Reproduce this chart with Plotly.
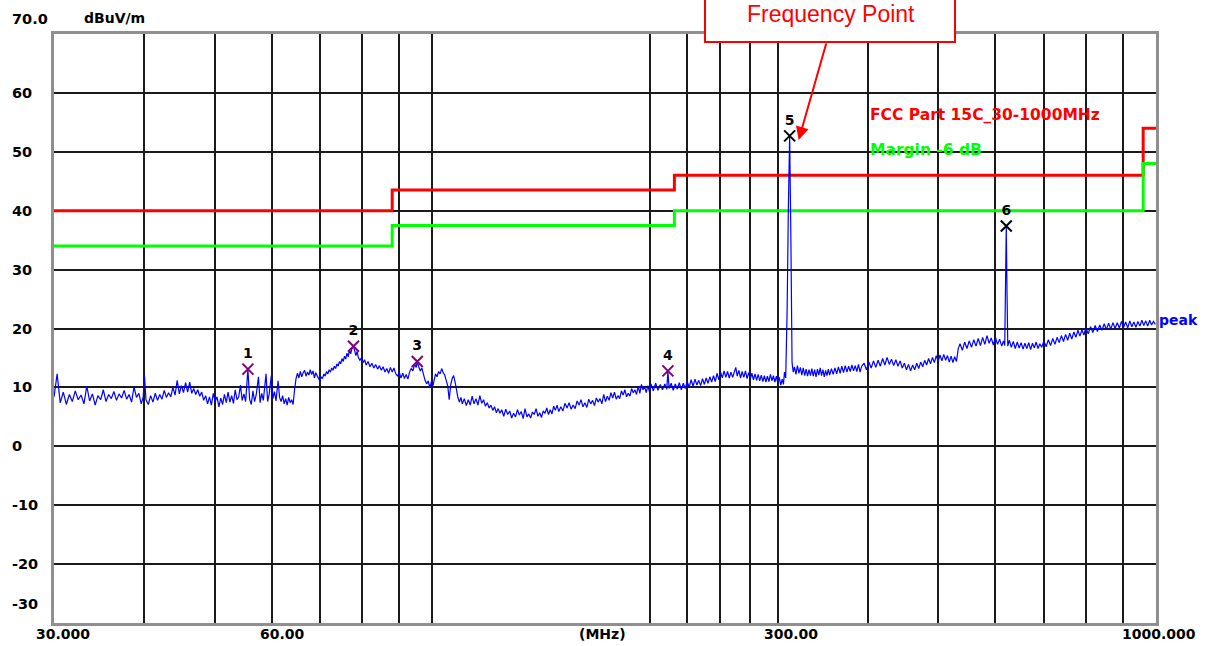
import math
import plotly.graph_objects as go

# ---------------- data ----------------
seg_30_40 = [(30.0,8.4),(30.3,12.3),(30.6,7.4),(30.9,9.2),(31.2,7.1),(31.5,8.8),(31.8,7.6),(32.1,9.4),(32.4,7.9),(32.7,8.7),(33.0,7.2),(33.3,10.2),(33.6,7.7),(33.9,8.9),(34.2,7.0),(34.5,8.6),(34.8,7.9),(35.1,9.6),(35.4,7.6),(35.7,8.8),(36.0,8.1),(36.3,9.3),(36.6,7.8),(36.9,8.9),(37.2,8.2),(37.5,9.5),(37.8,8.0),(38.1,8.8),(38.4,7.5),(38.7,10.1),(39.0,8.3),(39.3,9.0),(39.6,7.2),(39.85,8.4),(40.0,12.2)]
seg_40_55 = [(40.2,7.9),(40.5,7.1),(40.8,8.6),(41.1,7.5),(41.4,9.0),(41.7,7.8),(42.0,8.8),(42.3,8.0),(42.6,9.5),(42.9,8.3),(43.2,9.1),(43.5,8.4),(43.8,10.0),(44.1,8.7),(44.4,11.2),(44.7,8.9),(45.0,10.3),(45.3,9.1),(45.6,10.8),(45.9,9.2),(46.2,10.9),(46.5,9.0),(46.8,9.8),(47.1,8.8),(47.4,9.6),(47.7,8.5),(48.0,9.2),(48.3,7.8),(48.6,8.6),(48.9,7.2),(49.2,8.4),(49.5,7.0),(49.8,9.0),(50.1,7.6),(50.4,8.4),(50.7,6.7),(51.0,8.2),(51.3,7.1),(51.6,8.8),(51.9,7.4),(52.2,9.2),(52.5,7.5),(52.8,8.6),(53.1,7.3),(53.4,9.6),(53.7,7.9),(54.0,8.4),(54.3,10.4),(54.6,7.8),(54.9,8.9),(55.2,7.6)]
seg_55_65 = [(55.6,13.1),(55.9,8.0),(56.2,7.1),(56.5,9.4),(56.8,7.6),(57.1,8.8),(57.5,11.8),(57.8,7.4),(58.1,9.0),(58.4,7.8),(58.9,12.3),(59.2,7.6),(59.5,8.9),(59.9,12.0),(60.2,8.1),(60.5,9.3),(60.8,7.7),(61.2,11.1),(61.5,8.3),(61.8,7.6),(62.1,8.6),(62.4,7.2),(62.7,8.1),(63.0,7.0),(63.3,8.3),(63.6,7.4),(63.9,7.9),(64.2,7.1),(64.5,9.6)]
seg_65_78 = [(64.8,11.5),(65.1,12.4),(65.4,11.6),(65.7,12.7),(66.0,11.8),(66.3,12.5),(66.6,12.9),(66.9,11.9),(67.2,12.6),(67.5,12.1),(67.8,13.0),(68.1,12.2),(68.4,12.8),(68.7,11.6),(69.0,12.5),(69.3,12.0),(69.9,11.1),(70.2,11.8),(70.5,11.5),(70.8,12.3),(71.1,11.9),(71.4,12.7),(71.7,12.3),(72.0,13.0),(72.3,12.6),(72.6,13.3),(72.9,12.9),(73.2,13.6),(73.5,13.2),(73.8,14.0),(74.1,13.6),(74.4,14.4),(74.7,14.0),(75.0,14.9),(75.3,14.4),(75.6,15.3),(75.9,14.8),(76.2,15.8),(76.5,15.2),(76.8,16.3),(77.1,15.7),(77.4,16.5),(77.8,17.0),(78.1,16.2)]
seg_78_100 = [(78.4,15.4),(78.7,16.1),(79.0,15.1),(79.4,14.6),(79.8,15.0),(80.2,14.2),(80.6,14.7),(81.0,13.8),(81.5,14.4),(82.0,13.5),(82.5,14.1),(83.0,13.3),(83.5,13.9),(84.0,13.1),(84.5,13.7),(85.0,12.9),(85.5,13.5),(86.0,12.6),(86.5,13.2),(87.0,12.4),(87.5,13.4),(88.0,12.6),(88.5,13.3),(89.0,12.3),(89.5,11.9),(90.0,12.6),(90.5,11.6),(91.0,12.4),(91.5,11.5),(92.0,12.2),(92.5,11.4),(93.0,12.6),(93.5,13.2),(94.0,12.8),(94.5,13.9),(95.0,13.4),(95.3,14.4),(95.7,13.6),(96.2,12.8),(96.7,13.3),(97.2,12.1),(97.7,11.2),(98.2,10.6),(98.7,11.1),(99.2,9.9),(99.7,11.0)]
seg_100_125 = [(100.2,10.3),(100.6,11.6),(101.0,12.3),(101.5,11.8),(102.0,12.7),(102.5,12.3),(103.0,13.2),(103.5,12.5),(104.0,12.1),(104.5,11.2),(105.0,10.3),(105.5,7.9),(106.0,10.4),(106.5,11.5),(107.0,12.0),(107.5,10.9),(108.0,9.3),(108.5,8.2),(109.0,7.5),(109.5,8.3),(110.0,7.2),(110.7,8.1),(111.4,6.9),(112.1,7.9),(112.8,7.0),(113.5,8.5),(114.2,7.2),(114.9,8.1),(115.6,7.0),(116.3,8.6),(117.0,7.3),(117.7,7.9),(118.4,6.8),(119.1,7.4),(119.8,6.5),(120.5,7.0),(121.2,6.1),(121.9,6.7),(122.6,5.7),(123.3,6.4),(124.0,5.6),(124.7,6.2)]
seg_125_172 = [(125.5,5.1),(126.3,6.3),(127.1,5.4),(127.9,6.0),(128.7,4.8),(129.5,5.6),(130.3,5.0),(131.1,6.2),(131.9,5.3),(132.7,5.9),(133.5,4.7),(134.3,6.4),(135.1,5.0),(135.9,5.5),(136.7,4.8),(137.5,5.8),(138.3,5.4),(139.1,6.4),(139.9,5.1),(140.7,5.7),(141.5,4.9),(142.3,6.0),(143.1,5.6),(143.9,6.5),(144.7,5.4),(145.5,6.2),(146.3,5.5),(147.1,6.8),(147.9,6.1),(148.7,7.0),(149.5,5.9),(150.5,6.7),(151.5,6.0),(152.5,7.3),(153.5,6.5),(154.5,7.4),(155.5,6.3),(156.5,7.0),(157.5,6.4),(158.5,7.7),(159.5,7.0),(160.5,7.9),(161.5,6.7),(162.5,7.4),(163.5,6.6),(164.5,8.0),(165.5,7.2),(166.5,7.8),(167.5,6.9),(168.5,8.2),(169.5,7.5),(170.5,8.1),(171.5,7.2)]
seg_172_200 = [(172.5,8.8),(173.5,7.6),(174.5,8.5),(175.5,7.8),(176.5,9.1),(177.5,8.2),(178.5,9.2),(179.5,8.0),(180.5,8.6),(181.5,8.1),(182.5,9.4),(183.5,8.7),(184.5,9.6),(185.5,8.4),(186.5,9.0),(187.5,8.5),(188.5,9.8),(189.5,9.1),(190.5,9.6),(191.5,8.8),(192.5,10.2),(193.5,9.0),(194.5,10.5),(195.5,9.6),(196.5,10.1),(197.5,9.1),(198.5,10.3),(199.5,9.3)]
seg_200_308 = [(200.5,10.6),(202.0,9.4),(203.5,10.7),(205.0,9.5),(206.5,10.5),(208.0,9.6),(209.5,10.6),(210.8,9.7),(211.6,12.7),(212.4,9.8),(213.8,10.7),(215.2,9.5),(216.6,10.6),(218.0,9.7),(219.4,10.8),(220.8,9.6),(222.2,10.7),(223.6,9.8),(225.0,11.0),(226.4,10.0),(227.8,11.3),(229.2,10.2),(230.6,11.4),(232.0,10.4),(233.4,11.2),(234.8,10.3),(236.2,11.5),(237.6,10.5),(239.0,11.6),(240.4,10.7),(241.8,11.8),(243.2,10.9),(244.6,12.0),(246.0,11.0),(247.4,12.4),(248.8,11.3),(250.2,12.6),(251.6,11.6),(253.0,12.8),(254.4,11.7),(255.8,12.7),(257.2,11.6),(258.6,12.6),(260.0,11.7),(261.4,12.9),(262.6,13.4),(263.8,11.9),(265.2,12.9),(266.6,11.6),(268.0,12.7),(269.4,11.7),(270.8,12.8),(272.2,11.5),(273.6,12.5),(275.0,11.4),(276.4,12.4),(277.8,11.3),(279.2,12.3),(280.6,11.2),(282.0,12.2),(283.4,11.1),(284.8,12.1),(286.2,11.0),(287.6,12.0),(289.0,10.9),(290.4,11.9),(291.8,11.0),(293.2,12.2),(294.6,11.1),(296.0,12.0),(297.4,10.9),(298.8,11.9),(300.2,10.7),(301.6,11.7),(303.0,10.4),(304.4,11.4),(305.6,10.5),(306.6,12.6),(307.8,11.6)]
spike_5 = [(309.2,23.0),(310.4,40.2),(311.7,52.7),(312.9,35.7),(314.1,14.2),(315.3,12.6)]
seg_315_393 = [(316.5,13.5),(318.0,12.2),(319.5,13.7),(321.0,12.4),(322.5,13.4),(324.0,12.1),(325.5,13.3),(327.0,12.0),(328.5,13.1),(330.0,11.9),(331.5,13.0),(333.0,12.0),(334.5,13.2),(336.0,11.9),(337.5,13.0),(339.0,11.8),(340.5,13.1),(342.0,12.1),(343.5,13.3),(345.0,12.0),(346.5,13.0),(348.0,11.8),(349.5,12.9),(351.0,12.0),(352.5,13.1),(354.0,12.1),(356.0,13.2),(358.0,12.2),(360.0,13.3),(362.0,12.3),(364.0,13.5),(366.0,12.4),(368.0,13.6),(370.0,12.5),(372.0,13.7),(374.0,12.6),(376.0,13.6),(378.0,12.7),(380.0,13.8),(382.0,12.8),(384.0,13.7),(386.0,12.7),(388.0,13.9),(390.0,12.6),(392.0,13.6)]
seg_393_533 = [(395.0,14.1),(398.0,13.0),(401.0,14.3),(404.0,13.3),(407.0,14.5),(410.0,13.4),(413.0,14.6),(416.0,13.6),(419.0,14.9),(422.0,13.8),(425.0,15.1),(428.0,13.9),(431.0,14.8),(434.0,13.7),(437.0,14.7),(440.0,13.6),(443.0,14.5),(446.0,13.3),(449.0,14.1),(452.0,13.0),(455.0,13.9),(458.0,12.8),(461.0,13.8),(464.0,13.0),(467.0,14.1),(470.0,13.2),(473.0,14.3),(476.0,13.5),(479.0,14.6),(482.0,13.8),(485.0,14.9),(488.0,14.0),(491.0,15.1),(494.0,14.2),(497.0,15.4),(500.0,14.4),(503.0,15.5),(506.0,14.5),(509.0,15.6),(512.0,14.6),(515.0,15.4),(518.0,14.3),(521.0,15.3),(524.0,14.2),(527.0,15.2),(530.0,14.4),(533.0,16.6)]
seg_533_618 = [(536.0,17.4),(540.0,16.3),(544.0,17.7),(548.0,16.6),(552.0,17.9),(556.0,16.8),(560.0,18.1),(564.0,17.0),(568.0,18.3),(572.0,17.1),(576.0,18.5),(580.0,17.3),(584.0,18.8),(588.0,17.5),(592.0,18.4),(596.0,17.2),(600.0,18.5),(604.0,17.3),(608.0,18.2),(612.0,17.0),(615.5,17.9),(618.0,17.1)]
spike_6 = [(619.5,26.5),(621.0,37.4),(622.5,26.0),(624.0,17.0)]
seg_624_1000 = [(627.0,18.0),(631.0,16.8),(635.0,17.8),(639.0,16.6),(643.0,17.7),(647.0,16.7),(651.0,17.6),(655.0,16.5),(659.0,17.5),(663.0,16.6),(667.0,17.6),(671.0,16.4),(675.0,17.5),(679.0,16.7),(683.0,17.7),(687.0,16.6),(691.0,17.4),(695.0,16.8),(700.0,17.9),(705.0,16.9),(710.0,18.1),(715.0,17.1),(720.0,18.3),(725.0,17.3),(730.0,18.5),(735.0,17.6),(740.0,18.8),(745.0,17.8),(750.0,19.0),(755.0,18.0),(760.0,19.2),(765.0,18.2),(770.0,19.4),(775.0,18.5),(780.0,19.7),(785.0,18.7),(790.0,19.8),(795.0,18.9),(800.0,20.1),(806.0,19.1),(812.0,20.3),(818.0,19.3),(824.0,20.5),(830.0,19.5),(836.0,20.6),(842.0,19.7),(848.0,20.8),(854.0,19.8),(860.0,20.9),(866.0,19.9),(872.0,21.0),(878.0,20.0),(884.0,21.0),(890.0,20.1),(896.0,21.2),(902.0,20.2),(908.0,21.1),(914.0,20.1),(920.0,21.3),(926.0,20.3),(932.0,21.1),(938.0,20.2),(944.0,21.2),(950.0,20.4),(956.0,21.4),(962.0,20.5),(968.0,21.3),(974.0,20.4),(980.0,21.4),(986.0,20.6),(992.0,21.2),(998.0,20.7)]

peak_points = (seg_30_40 + seg_40_55 + seg_55_65 + seg_65_78 + seg_78_100 + seg_100_125 +
               seg_125_172 + seg_172_200 + seg_200_308 + spike_5 + seg_315_393 +
               seg_393_533 + seg_533_618 + spike_6 + seg_624_1000)
peak_freq = [p[0] for p in peak_points]
peak_level = [p[1] for p in peak_points]

limit_freq = [30, 88, 216, 960, 1000]
limit_level = [40.0, 43.5, 46.0, 54.0, 54.0]
margin_db = 6
margin_level = [v - margin_db for v in limit_level]

marker_freq = [55.6, 77.8, 95.3, 211.6, 311.7, 621.0]
marker_level = [13.1, 17.0, 14.4, 12.8, 52.7, 37.4]
marker_label = ["1", "2", "3", "4", "5", "6"]
marker_color = ["#800080", "#800080", "#800080", "#800080", "#000000", "#000000"]

grid_freq = [40, 50, 60, 70, 80, 90, 100, 200, 225, 250, 275, 300, 400, 500, 600, 700, 800, 900]
y_ticks = [60, 50, 40, 30, 20, 10, 0, -10, -20]
x_labels = [(30, "30.000", 9), (60, "60.00", 11), (300, "300.00", 13), (1000, "1000.000", 3)]

# ---------------- figure ----------------
L, R, T, B = 54, 52, 34, 23
W, H = 1208, 646
pw, ph = W - L - R, H - T - B
def px_x(p):  # paper x from pixel
    return (p - L) / pw
def px_y(p):
    return (H - B - p) / ph

FONT = "DejaVu Sans"
fig = go.Figure()
fig.add_trace(go.Scatter(x=limit_freq, y=limit_level, mode="lines",
                         line=dict(color="#ff0000", width=3, shape="hv"), hoverinfo="skip"))
fig.add_trace(go.Scatter(x=limit_freq, y=margin_level, mode="lines",
                         line=dict(color="#00ff00", width=3, shape="hv"), hoverinfo="skip"))
fig.add_trace(go.Scatter(x=peak_freq, y=peak_level, mode="lines",
                         line=dict(color="#0000ff", width=1.2), hoverinfo="skip"))
fig.add_trace(go.Scatter(x=marker_freq, y=marker_level, mode="markers+text",
                         text=["<b>%s</b>" % t for t in marker_label], textposition="top center",
                         textfont=dict(family=FONT, size=14, color="#000000"),
                         marker=dict(symbol="x-thin", size=11, color=marker_color,
                                     line=dict(width=2, color=marker_color)),
                         hoverinfo="skip"))

ann = []
for v in y_ticks:
    ann.append(dict(x=px_x(10), y=v, xref="paper", yref="y", xanchor="left", yanchor="middle",
                    text="<b>%d</b>" % v, showarrow=False, font=dict(family=FONT, size=14.5, color="#000")))
ann.append(dict(x=px_x(10), y=70, xref="paper", yref="y", xanchor="left", yanchor="middle", yshift=15,
                text="<b>70.0</b>", showarrow=False, font=dict(family=FONT, size=14.5, color="#000")))
ann.append(dict(x=px_x(10), y=-30, xref="paper", yref="y", xanchor="left", yanchor="middle", yshift=19,
                text="<b>-30</b>", showarrow=False, font=dict(family=FONT, size=14.5, color="#000")))
ann.append(dict(x=px_x(82), y=70, xref="paper", yref="y", xanchor="left", yanchor="middle", yshift=16,
                text="<b>dBuV/m</b>", showarrow=False, font=dict(family=FONT, size=14, color="#000")))
for f, t, s in x_labels:
    ann.append(dict(x=math.log10(f), y=0, xref="x", yref="paper", xanchor="center", yanchor="middle",
                    xshift=s, yshift=-11, text="<b>%s</b>" % t, showarrow=False,
                    font=dict(family=FONT, size=14, color="#000")))
ann.append(dict(x=px_x(602), y=0, xref="paper", yref="paper", xanchor="center", yanchor="middle",
                yshift=-11, text="<b>(MHz)</b>", showarrow=False, font=dict(family=FONT, size=14, color="#000")))
ann.append(dict(x=px_x(868), y=56.2, xref="paper", yref="y", xanchor="left", yanchor="middle",
                text="<b>FCC Part 15C_30-1000MHz</b>", showarrow=False,
                font=dict(family=FONT, size=15.5, color="#ff0000")))
ann.append(dict(x=px_x(868), y=50.3, xref="paper", yref="y", xanchor="left", yanchor="middle",
                text="<b>Margin -6 dB</b>", showarrow=False,
                font=dict(family=FONT, size=15.5, color="#00ff00")))
ann.append(dict(x=1, y=21.5, xref="paper", yref="y", xanchor="left", yanchor="middle", xshift=1,
                text="<b>peak</b>", showarrow=False, font=dict(family=FONT, size=14, color="#0000ff")))
# callout
ann.append(dict(x=math.log10(marker_freq[4]), y=marker_level[4], xref="x", yref="y",
                xshift=9, yshift=-4, text="", showarrow=True, arrowhead=2, arrowsize=1.3,
                arrowwidth=2, arrowcolor="#ff0000", ax=28, ay=-98, standoff=0))
ann.append(dict(x=px_x(831), y=px_y(0), xref="paper", yref="paper", xanchor="center", yanchor="top",
                borderpad=0, text="Frequency Point", showarrow=False,
                font=dict(family="Liberation Sans, Arial", size=23, color="#ff0000")))

fig.update_layout(
    width=W, height=H, margin=dict(l=L, r=R, t=T, b=B, pad=0),
    paper_bgcolor="white", plot_bgcolor="white", showlegend=False, hovermode=False,
    annotations=ann,
    shapes=[dict(type="rect", xref="paper", yref="paper", x0=px_x(705), x1=px_x(955),
                 y0=px_y(42), y1=px_y(-30), line=dict(color="#ff0000", width=2),
                 fillcolor="white", layer="above")],
    xaxis=dict(type="log", range=[math.log10(30), math.log10(1000)], tickvals=grid_freq,
               showticklabels=False, ticks="", showgrid=True, gridcolor="#1a1a1a", gridwidth=1.5,
               showline=True, mirror=True, linecolor="#8f8f8f", linewidth=3, zeroline=False,
               fixedrange=True),
    yaxis=dict(range=[-30, 70], tickvals=y_ticks, showticklabels=False, ticks="",
               showgrid=True, gridcolor="#1a1a1a", gridwidth=1.5, zeroline=False,
               showline=True, mirror=True, linecolor="#8f8f8f", linewidth=3, fixedrange=True),
)

fig.write_html("out.html", config={"displayModeBar": False},
               post_script="document.body.style.margin='0';")
